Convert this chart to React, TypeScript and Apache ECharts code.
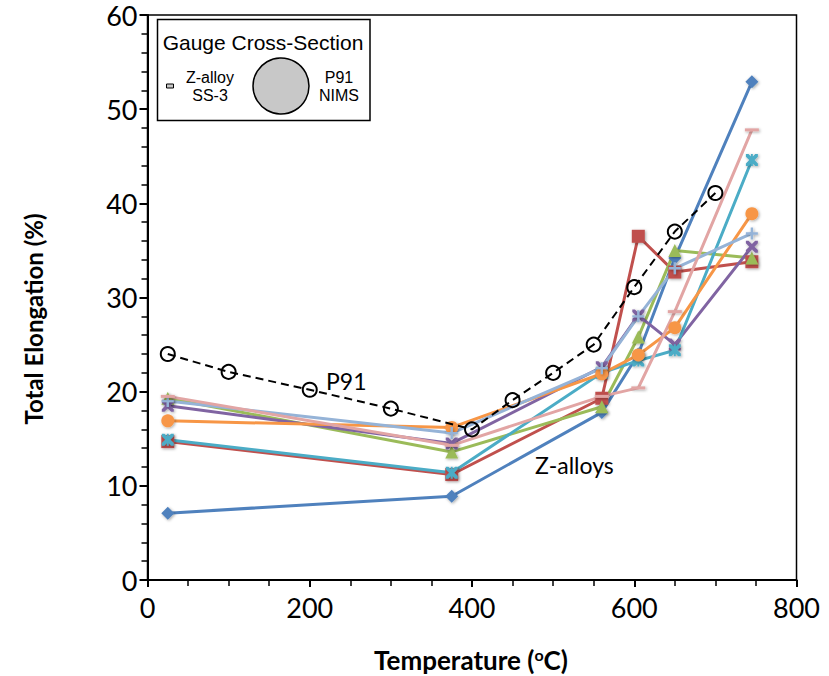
import React, { useEffect, useRef } from "react";
import * as echarts from "echarts";

const temps = [25, 375, 560, 605, 650, 745];
const zBlue = [7.1, 8.9, 17.8, 24.0, 34.2, 52.9];
const zRed = [14.7, 11.2, 19.3, 36.5, 32.7, 33.8];
const zGreen = [19.3, 13.6, 18.4, 25.8, 35.0, 34.2];
const zPurple = [18.5, 14.5, 22.6, 28.1, 25.0, 35.4];
const zTeal = [14.9, 11.4, 22.0, 23.3, 24.4, 44.6];
const zOrange = [16.9, 16.2, 21.9, 23.9, 26.8, 38.9];
const zLightBlue = [19.0, 15.6, 22.5, 28.0, 33.1, 36.8];
const zPink = [19.5, 14.3, 19.5, 20.4, 28.5, 47.8];

const p91Temps = [25, 100, 200, 300, 400, 450, 500, 550, 600, 650, 700];
const p91Vals = [24.0, 22.1, 20.2, 18.2, 16.0, 19.1, 22.0, 25.0, 31.1, 37.0, 41.1];

const xTicks = [0, 200, 400, 600, 800];
const yTicks = [0, 10, 20, 30, 40, 50, 60];

const X_PATH = "path://M0,0 L2.2,0 L5,2.8 L7.8,0 L10,0 L10,2.2 L7.2,5 L10,7.8 L10,10 L7.8,10 L5,7.2 L2.2,10 L0,10 L0,7.8 L2.8,5 L0,2.2 Z";
const PLUS_PATH = "path://M4,0 L6,0 L6,4 L10,4 L10,6 L6,6 L6,10 L4,10 L4,6 L0,6 L0,4 L4,4 Z";
const STAR_PATH = "path://M0,0 L2.2,0 L5,2.8 L7.8,0 L10,0 L10,2.2 L7.2,5 L10,7.8 L10,10 L7.8,10 L5,7.2 L2.2,10 L0,10 L0,7.8 L2.8,5 L0,2.2 Z M4.2,0 L5.8,0 L5.8,10 L4.2,10 Z";

const zSeries = [
  { name: "Z1", data: zBlue, color: "#4F81BD", symbol: "diamond", size: 13 },
  { name: "Z2", data: zRed, color: "#C0504D", symbol: "rect", size: 13 },
  { name: "Z3", data: zGreen, color: "#9BBB59", symbol: "triangle", size: 13 },
  { name: "Z4", data: zPurple, color: "#8064A2", symbol: X_PATH, size: 12 },
  { name: "Z5", data: zTeal, color: "#4BACC6", symbol: STAR_PATH, size: 12 },
  { name: "Z6", data: zOrange, color: "#F79646", symbol: "circle", size: 13 },
  { name: "Z7", data: zLightBlue, color: "#95B3D7", symbol: PLUS_PATH, size: 12 },
  { name: "Z8", data: zPink, color: "#E2A5A4", symbol: "rect", size: [14, 3] },
];

export default function App() {
  const ref = useRef<HTMLDivElement>(null);
  useEffect(() => {
    if (!ref.current) return;
    const chart = echarts.init(ref.current, null, { renderer: "svg" });
    const tickFont = "Lato, 'Open Sans', sans-serif";
    const arial = "'Liberation Sans', Arial, sans-serif";
    const series: any[] = zSeries.map((s) => ({
      name: s.name,
      type: "line",
      data: temps.map((t, i) => [t, s.data[i]]),
      symbol: s.symbol,
      symbolSize: s.size,
      showSymbol: true,
      lineStyle: { color: s.color, width: 3 },
      itemStyle: {
        color: s.color,
        shadowBlur: 3,
        shadowColor: "rgba(0,0,0,0.35)",
        shadowOffsetX: 1,
        shadowOffsetY: 1,
      },
      z: 2,
    }));
    series.push({
      name: "P91",
      type: "line",
      data: p91Temps.map((t, i) => [t, p91Vals[i]]),
      symbol: "circle",
      symbolSize: 14,
      lineStyle: { color: "#000", width: 2, type: [8, 5] },
      itemStyle: { color: "rgba(255,255,255,0)", borderColor: "#000", borderWidth: 2 },
      z: 3,
    });

    chart.setOption({
      animation: false,
      grid: {
        left: 147.5,
        right: 32.5,
        top: 15,
        bottom: 96,
        show: true,
        borderColor: "#000",
        borderWidth: 1.5,
        backgroundColor: "transparent",
      },
      xAxis: {
        type: "value",
        min: xTicks[0],
        max: xTicks[xTicks.length - 1],
        interval: 200,
        axisLine: { show: true, lineStyle: { color: "#000", width: 2 } },
        axisTick: { show: true, inside: false, length: 7, lineStyle: { color: "#000", width: 2 } },
        minorTick: { show: true, splitNumber: 4, length: 6, lineStyle: { color: "#000", width: 1.5 } },
        splitLine: { show: false },
        axisLabel: { color: "#000", fontSize: 27, fontFamily: tickFont, margin: 14 },
      },
      yAxis: {
        type: "value",
        min: yTicks[0],
        max: yTicks[yTicks.length - 1],
        interval: 10,
        axisLine: { show: true, lineStyle: { color: "#000", width: 2 } },
        axisTick: { show: true, inside: false, length: 8, lineStyle: { color: "#000", width: 2 } },
        minorTick: { show: true, splitNumber: 5, length: 6, lineStyle: { color: "#000", width: 1.5 } },
        splitLine: { show: false },
        axisLabel: { color: "#000", fontSize: 27, fontFamily: tickFont, margin: 10 },
      },
      series,
      graphic: [
        {
          type: "text",
          x: 33,
          y: 319,
          rotation: Math.PI / 2,
          style: {
            text: "Total Elongation (%)",
            fontSize: 24,
            fontWeight: "bold",
            fontFamily: tickFont,
            fill: "#000",
            align: "center",
            verticalAlign: "middle",
          },
        },
        {
          type: "text",
          x: 471,
          y: 660,
          style: {
            text: "{a|Temperature (}{s|o}{a|C)}",
            rich: {
              a: { fontSize: 26, fontWeight: "bold", fontFamily: tickFont, fill: "#000" },
              s: { fontSize: 16, fontWeight: "bold", fontFamily: tickFont, fill: "#000", verticalAlign: "top", padding: [0, 0, 12, 0] },
            },
            align: "center",
            verticalAlign: "middle",
          },
        },
        {
          type: "text",
          x: 326,
          y: 381,
          style: { text: "P91", fontSize: 23, fontFamily: tickFont, fill: "#000", verticalAlign: "middle" },
          z: 10,
        },
        {
          type: "text",
          x: 535,
          y: 465,
          style: { text: "Z-alloys", fontSize: 23, fontFamily: tickFont, fill: "#000", verticalAlign: "middle" },
          z: 10,
        },
        {
          type: "rect",
          shape: { x: 157.5, y: 19.5, width: 212.5, height: 101 },
          style: { fill: "#fff", stroke: "#000", lineWidth: 1.5 },
          z: 20,
        },
        {
          type: "text",
          x: 263,
          y: 42,
          style: {
            text: "Gauge Cross-Section",
            fontSize: 21,
            fontFamily: arial,
            fill: "#000",
            align: "center",
            verticalAlign: "middle",
          },
          z: 21,
        },
        {
          type: "rect",
          shape: { x: 166.5, y: 84, width: 7, height: 4 },
          style: { fill: "#c8c8c8", stroke: "#000", lineWidth: 1 },
          z: 21,
        },
        {
          type: "text",
          x: 210,
          y: 86,
          style: {
            text: "Z-alloy\nSS-3",
            fontSize: 16,
            lineHeight: 18,
            fontFamily: arial,
            fill: "#000",
            align: "center",
            verticalAlign: "middle",
          },
          z: 21,
        },
        {
          type: "circle",
          shape: { cx: 281, cy: 86, r: 28 },
          style: { fill: "#c8c8c8", stroke: "#000", lineWidth: 1.5 },
          z: 21,
        },
        {
          type: "text",
          x: 339,
          y: 86,
          style: {
            text: "P91\nNIMS",
            fontSize: 16,
            lineHeight: 18,
            fontFamily: arial,
            fill: "#000",
            align: "center",
            verticalAlign: "middle",
          },
          z: 21,
        },
      ],
    });
    return () => chart.dispose();
  }, []);
  return (
    <div
      ref={ref}
      style={{ position: "absolute", left: 0, top: 0, width: 829, height: 676, background: "#fff" }}
    />
  );
}
